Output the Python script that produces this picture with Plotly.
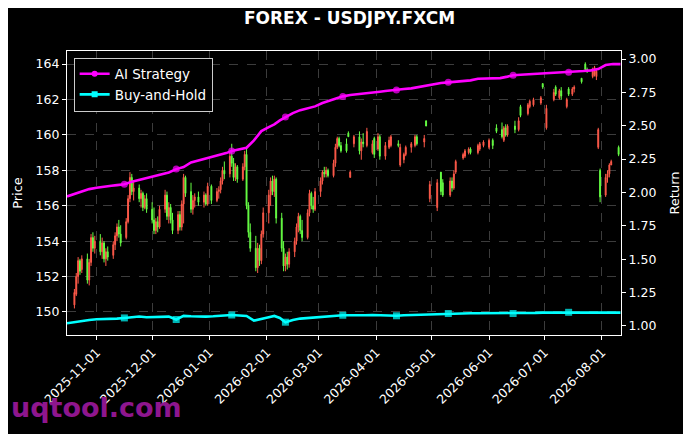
import plotly.graph_objects as go
from plotly.subplots import make_subplots

# daily candles (weekdays with data), one line per month
candle_dates = [
    "2025-10-20", "2025-10-21", "2025-10-22", "2025-10-23", "2025-10-24", "2025-10-27", "2025-10-28", "2025-10-29", "2025-10-30", "2025-10-31",
    "2025-11-03", "2025-11-04", "2025-11-05", "2025-11-06", "2025-11-07", "2025-11-10", "2025-11-11", "2025-11-12", "2025-11-13", "2025-11-14",
    "2025-11-17", "2025-11-18", "2025-11-19", "2025-11-20", "2025-11-21", "2025-11-24", "2025-11-25", "2025-11-26", "2025-11-27", "2025-11-28",
    "2025-12-01", "2025-12-02", "2025-12-03", "2025-12-04", "2025-12-05", "2025-12-08", "2025-12-09", "2025-12-10", "2025-12-11", "2025-12-12",
    "2025-12-15", "2025-12-16", "2025-12-17", "2025-12-18", "2025-12-19", "2025-12-22", "2025-12-23", "2025-12-24", "2025-12-26",
    "2025-12-29", "2025-12-30", "2025-12-31",
    "2026-01-02", "2026-01-05", "2026-01-06", "2026-01-07", "2026-01-08", "2026-01-09", "2026-01-12", "2026-01-13", "2026-01-14", "2026-01-15",
    "2026-01-16", "2026-01-19", "2026-01-20", "2026-01-21", "2026-01-22", "2026-01-23", "2026-01-26", "2026-01-27", "2026-01-28", "2026-01-29",
    "2026-01-30",
    "2026-02-02", "2026-02-03", "2026-02-04", "2026-02-05", "2026-02-06", "2026-02-09", "2026-02-10", "2026-02-11", "2026-02-12", "2026-02-13",
    "2026-02-16", "2026-02-17", "2026-02-18", "2026-02-19", "2026-02-20", "2026-02-23", "2026-02-24", "2026-02-25", "2026-02-26", "2026-02-27",
    "2026-03-02", "2026-03-03", "2026-03-04", "2026-03-05", "2026-03-06", "2026-03-09", "2026-03-10", "2026-03-11", "2026-03-12", "2026-03-13",
    "2026-03-16", "2026-03-17", "2026-03-18", "2026-03-20", "2026-03-23", "2026-03-24", "2026-03-25", "2026-03-27", "2026-03-30", "2026-03-31",
    "2026-04-02", "2026-04-03", "2026-04-06", "2026-04-08", "2026-04-09", "2026-04-13", "2026-04-14", "2026-04-16", "2026-04-17",
    "2026-04-20", "2026-04-22", "2026-04-23", "2026-04-27", "2026-04-28", "2026-04-30",
    "2026-05-04", "2026-05-06", "2026-05-07", "2026-05-11", "2026-05-12", "2026-05-13", "2026-05-14",
    "2026-05-18", "2026-05-19", "2026-05-21", "2026-05-22", "2026-05-26", "2026-05-27", "2026-05-29",
    "2026-06-01", "2026-06-03", "2026-06-05", "2026-06-08", "2026-06-09", "2026-06-10", "2026-06-11", "2026-06-15", "2026-06-17", "2026-06-18",
    "2026-06-22", "2026-06-23", "2026-06-25", "2026-06-29", "2026-06-30",
    "2026-07-02", "2026-07-06", "2026-07-07", "2026-07-09", "2026-07-10", "2026-07-13", "2026-07-14", "2026-07-16", "2026-07-17",
    "2026-07-21", "2026-07-23", "2026-07-24", "2026-07-27", "2026-07-28", "2026-07-29", "2026-07-30", "2026-07-31",
    "2026-08-03", "2026-08-04", "2026-08-05", "2026-08-06", "2026-08-10",
]
opens = [
    150.4, 151.0, 152.0, 152.9, 152.4, 153.0, 151.8, 152.8, 154.2, 153.6,
    154.0, 153.4, 153.9, 153.0, 153.4, 153.2, 153.8, 154.3, 154.8, 154.4,
    154.2, 155.1, 156.4, 157.6, 156.8, 157.0, 156.4, 156.7, 155.9, 156.4,
    155.8, 155.2, 154.6, 155.1, 154.8, 155.8, 156.6, 155.4, 155.9, 155.2,
    154.6, 155.5, 154.8, 156.1, 157.6, 156.8, 155.8, 156.3, 156.5,
    156.2, 156.6, 156.1,
    157.1, 156.3, 156.8, 156.9, 157.4, 158.0, 157.8, 158.8, 158.4, 157.6,
    158.2, 157.5, 158.2, 158.9, 156.0, 154.5, 153.6, 152.5, 153.6, 152.9,
    154.4,
    155.6, 156.6, 157.4, 156.8, 157.5, 155.3, 153.6, 152.6, 153.1, 152.7,
    153.4, 154.0, 154.8, 155.4, 154.6, 154.2, 155.6, 156.7, 156.0, 155.8,
    156.8, 157.4, 157.9, 157.8, 158.0, 157.7, 158.4, 159.3, 159.8, 159.4,
    159.5, 160.1, 157.6, 159.5, 159.9, 159.1, 159.6, 159.4, 159.0, 159.8,
    159.2, 159.9, 158.8, 159.3, 159.4, 159.5, 158.3, 158.6, 158.9,
    159.3, 159.4, 159.9, 159.6, 160.8, 156.4,
    155.9, 157.9, 157.3, 156.6, 157.4, 157.0, 157.9,
    158.7, 158.8, 159.0, 159.2, 159.0, 159.2, 159.4,
    159.3, 159.7, 160.4, 160.3, 159.7, 160.4, 160.0, 160.5, 160.3, 161.6,
    161.2, 161.6, 161.7, 161.8, 162.9,
    160.4, 162.0, 162.7, 162.1, 162.5, 161.6, 162.6, 162.3, 162.6,
    163.2, 164.0, 163.7, 163.3, 163.4, 163.3, 159.3, 158.0,
    156.6, 157.6, 157.8, 158.3, 159.3,
]
highs = [
    151.3, 152.2, 153.1, 153.0, 153.2, 153.3, 153.0, 154.4, 154.5, 154.3,
    154.4, 154.2, 154.0, 153.6, 153.7, 154.0, 154.5, 155.0, 155.2, 154.9,
    155.3, 156.6, 157.9, 157.8, 157.4, 157.2, 156.9, 156.8, 156.6, 156.7,
    156.2, 155.9, 155.3, 155.4, 156.0, 156.9, 156.8, 156.2, 156.1, 155.6,
    155.7, 155.7, 156.3, 157.8, 157.7, 157.3, 156.6, 156.7, 156.8,
    156.8, 156.7, 157.3,
    157.2, 157.0, 157.1, 157.6, 158.2, 158.5, 159.0, 159.5, 158.7, 158.4,
    158.3, 158.4, 159.1, 159.2, 156.2, 155.0, 154.3, 153.9, 153.8, 154.6,
    155.9,
    156.9, 157.6, 157.7, 157.7, 157.6, 155.6, 154.0, 153.3, 153.4, 153.6,
    154.2, 155.0, 155.6, 155.5, 155.2, 155.8, 156.9, 156.8, 156.5, 157.0,
    157.6, 158.0, 158.2, 158.2, 158.1, 158.6, 159.5, 159.9, 159.9, 159.6,
    159.8, 160.2, 158.0, 160.0, 160.2, 159.8, 160.1, 160.4, 159.7, 159.9,
    160.1, 160.0, 159.6, 159.9, 160.0, 159.7, 159.5, 159.0, 159.4,
    159.6, 160.0, 160.0, 160.0, 160.8, 157.4,
    157.5, 157.9, 157.5, 157.6, 157.6, 158.0, 158.6,
    159.0, 159.2, 159.3, 159.3, 159.5, 159.6, 159.7,
    159.8, 159.8, 160.6, 160.7, 160.5, 160.6, 160.6, 160.8, 161.0, 161.7,
    161.8, 162.0, 162.1, 162.2, 162.9,
    161.7, 162.6, 162.8, 162.6, 162.7, 162.1, 162.7, 162.7, 162.8,
    163.2, 164.1, 163.8, 163.8, 163.9, 163.7, 160.4, 158.1,
    157.8, 158.0, 158.4, 158.6, 159.4,
]
lows = [
    150.2, 150.9, 151.6, 152.1, 152.2, 151.6, 151.5, 152.6, 153.4, 153.3,
    153.2, 153.0, 152.8, 152.6, 152.9, 153.0, 153.5, 154.0, 154.2, 153.7,
    154.1, 155.0, 156.2, 156.6, 156.3, 156.2, 155.9, 155.7, 155.8, 155.6,
    155.0, 154.4, 154.4, 154.5, 154.7, 155.6, 155.2, 155.0, 155.0, 154.4,
    154.4, 154.6, 154.6, 155.0, 156.5, 155.6, 155.5, 155.9, 156.0,
    155.9, 156.0, 156.0,
    156.1, 156.2, 156.4, 156.7, 157.2, 157.5, 157.6, 158.2, 157.4, 157.4,
    157.3, 157.4, 158.0, 155.8, 154.2, 153.4, 152.3, 152.2, 152.6, 152.7,
    154.2,
    155.0, 156.0, 156.6, 156.5, 155.0, 153.4, 152.3, 152.3, 152.4, 152.5,
    153.1, 153.8, 154.5, 154.4, 154.0, 154.1, 155.4, 155.8, 155.6, 155.7,
    156.5, 157.2, 157.6, 157.6, 157.6, 157.6, 158.2, 159.2, 159.3, 159.0,
    159.0, 159.9, 157.6, 159.3, 158.9, 158.6, 159.3, 159.3, 158.9, 158.7,
    159.1, 158.6, 158.6, 159.2, 159.3, 159.3, 158.2, 158.4, 158.8,
    159.0, 159.3, 159.4, 159.3, 160.5, 156.2,
    155.7, 156.6, 156.5, 156.5, 156.8, 156.9, 157.8,
    158.6, 158.7, 158.9, 158.9, 158.9, 159.1, 159.3,
    159.2, 159.2, 160.1, 159.8, 159.6, 159.9, 159.9, 160.1, 160.2, 161.0,
    161.1, 161.5, 161.6, 161.7, 162.6,
    160.3, 161.9, 162.2, 162.0, 162.0, 161.5, 162.2, 162.2, 162.4,
    162.9, 163.6, 163.5, 163.2, 163.3, 163.1, 159.2, 156.2,
    156.5, 157.3, 157.6, 158.3, 158.8,
]
closes = [
    151.1, 152.0, 152.9, 152.3, 153.0, 151.8, 152.8, 154.2, 153.6, 154.0,
    153.4, 153.9, 153.0, 153.4, 153.1, 153.8, 154.3, 154.8, 154.4, 153.9,
    155.1, 156.4, 157.6, 156.8, 157.0, 156.4, 156.7, 155.9, 156.4, 155.8,
    155.2, 154.6, 155.1, 154.8, 155.8, 156.6, 155.4, 155.9, 155.2, 154.6,
    155.5, 154.8, 156.1, 157.6, 156.7, 155.8, 156.3, 156.5, 156.2,
    156.6, 156.1, 157.1,
    156.3, 156.8, 156.9, 157.4, 158.0, 157.8, 158.8, 158.4, 157.6, 158.2,
    157.5, 158.2, 158.9, 156.0, 154.5, 153.6, 152.5, 153.6, 152.9, 154.4,
    155.6,
    156.6, 157.4, 156.8, 157.5, 155.3, 153.6, 152.6, 153.1, 152.7, 153.4,
    154.0, 154.8, 155.4, 154.6, 154.2, 155.6, 156.7, 156.0, 155.8, 156.8,
    157.4, 157.9, 157.8, 158.0, 157.7, 158.4, 159.3, 159.8, 159.4, 159.1,
    159.1, 159.9, 157.9, 159.9, 159.1, 159.6, 159.5, 160.2, 159.5, 158.9,
    159.9, 158.8, 159.4, 159.7, 159.9, 159.4, 159.3, 158.9, 159.3,
    159.5, 159.9, 159.5, 159.8, 160.5, 157.2,
    157.3, 156.8, 156.6, 157.4, 157.0, 157.8, 158.5,
    158.9, 159.1, 159.2, 159.0, 159.4, 159.5, 159.6,
    159.7, 159.4, 160.2, 159.9, 160.4, 160.0, 160.5, 160.3, 160.8, 161.1,
    161.7, 161.9, 162.0, 162.1, 162.7,
    161.5, 162.4, 162.3, 162.5, 162.2, 162.0, 162.3, 162.6, 162.7,
    163.0, 163.7, 163.6, 163.7, 163.8, 163.6, 160.3, 156.5,
    157.6, 157.8, 158.3, 158.5, 158.9,
]

# strategy returns (right axis)
return_dates = [
    "2025-10-16", "2025-10-20", "2025-10-24", "2025-10-28", "2025-11-01", "2025-11-05", "2025-11-09", "2025-11-12",
    "2025-11-16", "2025-11-20", "2025-11-24", "2025-11-28", "2025-12-02", "2025-12-06", "2025-12-10", "2025-12-14",
    "2025-12-18", "2025-12-22", "2025-12-26", "2025-12-30", "2026-01-03", "2026-01-06", "2026-01-10", "2026-01-13",
    "2026-01-17", "2026-01-21", "2026-01-25", "2026-01-29", "2026-02-02", "2026-02-05", "2026-02-08", "2026-02-11",
    "2026-02-15", "2026-02-19", "2026-02-23", "2026-02-27", "2026-03-03", "2026-03-07", "2026-03-10", "2026-03-14",
    "2026-03-18", "2026-03-22", "2026-03-26", "2026-03-30", "2026-04-03", "2026-04-06", "2026-04-09", "2026-04-12",
    "2026-04-16", "2026-04-20", "2026-04-24", "2026-04-28", "2026-05-02", "2026-05-06", "2026-05-10", "2026-05-14",
    "2026-05-18", "2026-05-22", "2026-05-26", "2026-05-30", "2026-06-03", "2026-06-07", "2026-06-11", "2026-06-14",
    "2026-06-18", "2026-06-22", "2026-06-26", "2026-06-30", "2026-07-04", "2026-07-08", "2026-07-11", "2026-07-14",
    "2026-07-18", "2026-07-22", "2026-07-26", "2026-07-30", "2026-08-03", "2026-08-07", "2026-08-11",
]
ai_strategy = [
    1.97, 1.99, 2.01, 2.025, 2.035, 2.04, 2.05, 2.055,
    2.062, 2.08, 2.095, 2.105, 2.12, 2.135, 2.15, 2.175,
    2.19, 2.225, 2.24, 2.25, 2.27, 2.28, 2.295, 2.31,
    2.32, 2.335, 2.39, 2.46, 2.49, 2.51, 2.54, 2.565,
    2.595, 2.617, 2.63, 2.645, 2.67, 2.69, 2.705, 2.72,
    2.73, 2.735, 2.74, 2.75, 2.755, 2.76, 2.763, 2.767,
    2.775, 2.78, 2.79, 2.80, 2.815, 2.82, 2.825, 2.83,
    2.835, 2.84, 2.852, 2.855, 2.855, 2.857, 2.868, 2.878,
    2.882, 2.885, 2.887, 2.89, 2.893, 2.895, 2.898, 2.90,
    2.905, 2.91, 2.915, 2.925, 2.955, 2.962, 2.962,
]
buy_and_hold = [
    1.02, 1.03, 1.04, 1.045, 1.05, 1.05, 1.055, 1.055,
    1.06, 1.065, 1.07, 1.065, 1.065, 1.068, 1.07, 1.048,
    1.075, 1.072, 1.07, 1.07, 1.072, 1.075, 1.078, 1.082,
    1.078, 1.075, 1.04, 1.055, 1.065, 1.075, 1.06, 1.028,
    1.045, 1.055, 1.06, 1.065, 1.07, 1.075, 1.078, 1.08,
    1.08, 1.078, 1.08, 1.082, 1.08, 1.08, 1.078, 1.076,
    1.08, 1.082, 1.085, 1.085, 1.088, 1.09, 1.093, 1.093,
    1.095, 1.095, 1.095, 1.095, 1.095, 1.095, 1.094, 1.093,
    1.095, 1.097, 1.098, 1.10, 1.10, 1.10, 1.10, 1.102,
    1.10, 1.10, 1.102, 1.105, 1.103, 1.10, 1.10,
]
marker_dates = ["2025-11-16", "2025-12-14", "2026-01-13", "2026-02-11", "2026-03-14",
                "2026-04-12", "2026-05-10", "2026-06-14", "2026-07-14"]

price_ticks = [150, 152, 154, 156, 158, 160, 162, 164]
return_ticks = [1.00, 1.25, 1.50, 1.75, 2.00, 2.25, 2.50, 2.75, 3.00]
month_ticks = ["2025-11-01", "2025-12-01", "2026-01-01", "2026-02-01", "2026-03-01",
               "2026-04-01", "2026-05-01", "2026-06-01", "2026-07-01", "2026-08-01"]

FONT = "DejaVu Sans"
RED = "#ff5a4a"
GREEN = "#66ff44"
GRID = "#3c3c3c"


def main():
    fig = make_subplots(specs=[[{"secondary_y": True}]])

    # red = up, green = down
    fig.add_trace(go.Candlestick(
        x=candle_dates, open=opens, high=highs, low=lows, close=closes,
        increasing=dict(line=dict(color=RED, width=1), fillcolor=RED),
        decreasing=dict(line=dict(color=GREEN, width=1), fillcolor=GREEN),
        whiskerwidth=0, showlegend=False, hoverinfo="skip",
    ), secondary_y=False)

    series = [("AI Strategy", ai_strategy, "#ff00ff", "circle"),
              ("Buy-and-Hold", buy_and_hold, "#00ffff", "square")]
    for name, vals, color, symbol in series:
        sizes = [7 if d in marker_dates else 0 for d in return_dates]
        fig.add_trace(go.Scatter(
            x=return_dates, y=vals, mode="lines+markers", name=name,
            line=dict(color=color, width=2.6),
            marker=dict(size=sizes, color=color, symbol=symbol, line=dict(width=0)),
            showlegend=False,
        ), secondary_y=True)
        # legend entry
        fig.add_trace(go.Scatter(
            x=[None], y=[None], mode="lines+markers", name=name,
            line=dict(color=color, width=2.6),
            marker=dict(size=6, color=color, symbol=symbol),
        ), secondary_y=True)

    axis_common = dict(
        showline=True, linecolor="white", linewidth=1.2, mirror=True,
        ticks="outside", ticklen=4, tickcolor="white", tickwidth=1,
        tickfont=dict(family=FONT, size=12.5, color="white"),
        zeroline=False, automargin=False,
    )
    fig.update_xaxes(
        **axis_common,
        type="date", range=["2025-10-16", "2026-08-11 07:00"], domain=[0, 1],
        tickvals=month_ticks, tickformat="%Y-%m-%d", tickangle=-45,
        showgrid=True, gridcolor=GRID, griddash="dash", gridwidth=0.7,
        rangeslider=dict(visible=False),
    )
    fig.update_yaxes(
        **axis_common,
        range=[148.70, 164.74], tickvals=price_ticks,
        showgrid=True, gridcolor=GRID, griddash="dash", gridwidth=0.7,
        title=dict(text="Price", font=dict(family=FONT, size=13, color="white"), standoff=9),
        secondary_y=False,
    )
    fig.update_yaxes(
        **axis_common,
        range=[0.932, 3.06], tickvals=return_ticks, tickformat=".2f",
        showgrid=False,
        title=dict(text="Return", font=dict(family=FONT, size=13, color="white"), standoff=14),
        secondary_y=True,
    )

    # page body adds 8px at top/left, so the figure is drawn 8px smaller
    fig.update_layout(
        width=683, height=426,
        margin=dict(l=59, r=70, t=43, b=99),
        paper_bgcolor="black", plot_bgcolor="black",
        font=dict(family=FONT, color="white"),
        title=dict(text="<b>FOREX - USDJPY.FXCM</b>", x=0.5, xanchor="center",
                   y=0.977, yanchor="middle",
                   font=dict(family=FONT, size=17, color="white")),
        legend=dict(x=0.012, y=0.977, xanchor="left", yanchor="top",
                    bgcolor="black", bordercolor="#cccccc", borderwidth=1,
                    font=dict(family=FONT, size=13.5, color="white"),
                    itemwidth=30, tracegroupgap=0),
        showlegend=True,
    )
    fig.add_annotation(
        text="<b>uqtool.com</b>", xref="paper", yref="paper",
        x=-0.105, y=-0.257, xanchor="left", yanchor="middle", showarrow=False,
        font=dict(family=FONT, size=27, color="#8e168e"),
    )

    fig.write_html("out.html")


if __name__ == "__main__":
    main()
